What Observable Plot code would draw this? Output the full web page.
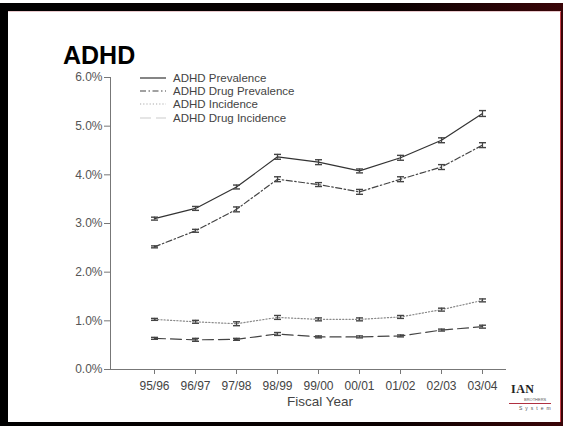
<!DOCTYPE html>
<html>
<head>
<meta charset="utf-8">
<script src="https://cdn.jsdelivr.net/npm/d3@7"></script>
<script src="https://cdn.jsdelivr.net/npm/@observablehq/plot@0.6"></script>
<style>
  html, body { margin: 0; padding: 0; background: #fff; }
  #slide { position: relative; width: 563px; height: 426px; overflow: hidden; background: #fff; font-family: "Liberation Sans", Arial, sans-serif; }
  #frame { position: absolute; left: 0; top: 3px; width: 563px; height: 423px; background: linear-gradient(90deg, #000 0%, #0a0000 70%, #3a0508 100%); }
  #inner { position: absolute; left: 8px; top: 8px; right: 2px; bottom: 4px; background: #fff; border-right: 1px solid #c8424c; border-top: 1px solid #e8c8cc; }
  #title { position: absolute; left: 63px; top: 41px; font: bold 25px "Liberation Sans", Arial, sans-serif; color: #000; }
  #chart { position: absolute; left: 0; top: 0; }
  #legend { position: absolute; left: 140px; top: 71px; font-size: 11.5px; color: #444; }
  #legend .row { display: flex; align-items: center; height: 13.4px; }
  #legend svg { margin-right: 6px; }
  #logo { position: absolute; left: 511px; top: 383px; width: 44px; height: 30px; color: #222; }
  #logo .ian { position: absolute; left: 0; top: 0; font: bold 12px/12px "Liberation Serif", serif; letter-spacing: 0.5px; }
  #logo .bro { position: absolute; left: 13px; top: 15px; font: 4px/4px "Liberation Sans", sans-serif; color: #555; white-space: nowrap; }
  #logo .swoosh { position: absolute; left: -2px; top: 19.5px; width: 42px; height: 1.5px; background: #b03040; }
  #logo .sys { position: absolute; left: 8px; top: 23px; font: 5px/5px "Liberation Sans", sans-serif; letter-spacing: 3px; color: #555; white-space: nowrap; }
</style>
</head>
<body>
<div id="slide">
  <div id="frame"><div id="inner"></div></div>
  <div id="logo"><div class="ian">IAN</div><div class="bro">BROTHERS</div><div class="swoosh"></div><div class="sys">System</div></div>
  <div id="chart"></div>
  <div id="title">ADHD</div>
  <div id="legend"></div>
</div>
<script>
// ---- data ----
const years = ["95/96", "96/97", "97/98", "98/99", "99/00", "00/01", "01/02", "02/03", "03/04"];
const seriesNames = ["ADHD Prevalence", "ADHD Drug Prevalence", "ADHD Incidence", "ADHD Drug Incidence"];
const prevalence     = [3.10, 3.31, 3.75, 4.37, 4.26, 4.08, 4.35, 4.71, 5.26];
const drugPrevalence = [2.52, 2.85, 3.29, 3.91, 3.80, 3.65, 3.91, 4.16, 4.61];
const incidence      = [1.03, 0.98, 0.94, 1.07, 1.03, 1.03, 1.08, 1.23, 1.42];
const drugIncidence  = [0.64, 0.61, 0.62, 0.73, 0.67, 0.67, 0.69, 0.81, 0.88];
const prevalenceErr     = [0.03, 0.04, 0.04, 0.05, 0.05, 0.04, 0.05, 0.05, 0.06];
const drugPrevalenceErr = [0.02, 0.03, 0.05, 0.05, 0.04, 0.05, 0.05, 0.05, 0.05];
const incidenceErr      = [0.02, 0.03, 0.04, 0.04, 0.03, 0.03, 0.03, 0.03, 0.03];
const drugIncidenceErr  = [0.02, 0.03, 0.02, 0.03, 0.02, 0.02, 0.02, 0.02, 0.03];
const yTicks = [0, 1, 2, 3, 4, 5, 6];
const xLabel = "Fiscal Year";

// ---- styles (separate from data) ----
const styles = {
  "ADHD Prevalence":      {stroke: "#333", dash: null,            legendStroke: "#333"},
  "ADHD Drug Prevalence": {stroke: "#444", dash: "6,2.5,1.5,2.5", legendStroke: "#444"},
  "ADHD Incidence":       {stroke: "#8a8a8a", dash: "1.2,2",      legendStroke: "#aaa"},
  "ADHD Drug Incidence":  {stroke: "#444", dash: "11,5",          legendStroke: "#ccc"}
};

const valueSets = [prevalence, drugPrevalence, incidence, drugIncidence];
const errSets = [prevalenceErr, drugPrevalenceErr, incidenceErr, drugIncidenceErr];
const rows = [];
seriesNames.forEach((name, s) => {
  years.forEach((year, i) => rows.push({series: name, year, value: valueSets[s][i], err: errSets[s][i]}));
});

const capSymbol = {
  draw(context, size) {
    const r = Math.sqrt(size / Math.PI);
    context.moveTo(-r, 0);
    context.lineTo(r, 0);
  }
};

const lineMarks = seriesNames.map(name => Plot.line(rows.filter(d => d.series === name), {
  x: "year", y: "value", stroke: styles[name].stroke, strokeWidth: 1.2,
  strokeDasharray: styles[name].dash || undefined
}));

const chart = Plot.plot({
  width: 563,
  height: 426,
  marginLeft: 110,
  marginRight: 58,
  marginTop: 77,
  marginBottom: 57,
  style: {background: "transparent", fontFamily: "'Liberation Sans', Arial, sans-serif", color: "#555"},
  x: {type: "point", domain: years, insetLeft: 41, insetRight: 20, padding: 0},
  y: {domain: [0, 6]},
  marks: [
    Plot.frame({anchor: "left", stroke: "#777"}),
    Plot.frame({anchor: "bottom", stroke: "#777"}),
    Plot.axisY({ticks: yTicks, tickFormat: d => d.toFixed(1) + "%", tickSize: 6, tickPadding: 2, fontSize: 12, stroke: "#777", fill: "#555", label: null}),
    Plot.axisX({tickSize: 5, tickPadding: 7, fontSize: 12, stroke: "#777", fill: "#444", label: null}),
    Plot.text([xLabel], {frameAnchor: "bottom", dy: 36, dx: 12, fontSize: 13.5, fill: "#444"}),
    ...lineMarks,
    Plot.ruleX(rows, {x: "year", y1: d => d.value - d.err, y2: d => d.value + d.err, stroke: "#444", strokeWidth: 1.2}),
    Plot.dot(rows, {x: "year", y: d => d.value - d.err, symbol: capSymbol, r: 3.5, stroke: "#444", strokeWidth: 1.4, fill: "none"}),
    Plot.dot(rows, {x: "year", y: d => d.value + d.err, symbol: capSymbol, r: 3.5, stroke: "#444", strokeWidth: 1.4, fill: "none"})
  ]
});
document.getElementById("chart").appendChild(chart);

// legend
const legend = d3.select("#legend");
seriesNames.forEach(name => {
  const row = legend.append("div").attr("class", "row");
  const svg = row.append("svg").attr("width", 27).attr("height", 8);
  svg.append("line").attr("x1", 0).attr("x2", 26).attr("y1", 4).attr("y2", 4)
    .attr("stroke", styles[name].legendStroke).attr("stroke-width", 1.2)
    .attr("stroke-dasharray", styles[name].dash);
  row.append("span").text(name);
});
</script>
</body>
</html>
